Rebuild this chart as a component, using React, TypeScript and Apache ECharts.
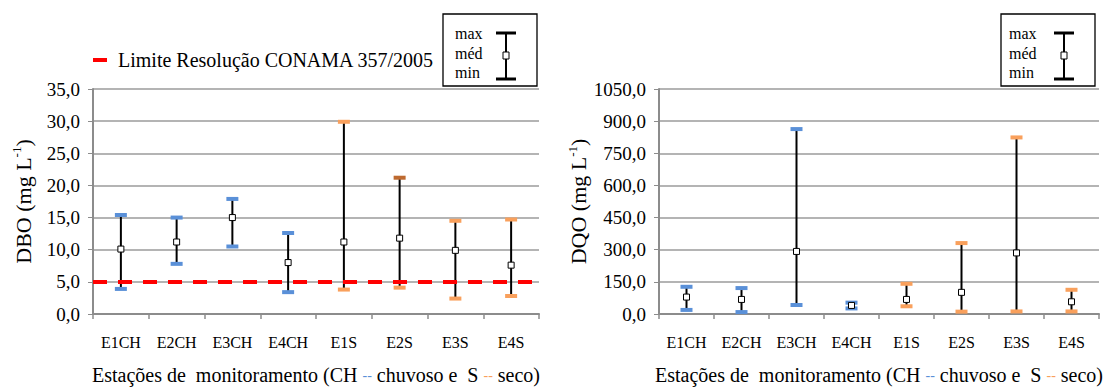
import React, { useEffect, useRef } from "react";
import * as echarts from "echarts";

const categories = ["E1CH", "E2CH", "E3CH", "E4CH", "E1S", "E2S", "E3S", "E4S"];

// DBO (mg L-1)
const dboMin = [3.9, 7.8, 10.5, 3.4, 3.8, 4.1, 2.4, 2.8];
const dboMed = [10.1, 11.2, 15.0, 8.0, 11.2, 11.8, 9.9, 7.6];
const dboMax = [15.4, 15.0, 17.9, 12.6, 29.9, 21.2, 14.5, 14.7];

// DQO (mg L-1)
const dqoMin = [19, 9, 42, 26, 36, 11, 12, 12];
const dqoMed = [79, 68, 292, 40, 68, 101, 285, 57];
const dqoMax = [127, 121, 863, 53, 141, 331, 824, 113];

const dboTicks = { min: 0, max: 35, interval: 5 };
const dqoTicks = { min: 0, max: 1050, interval: 150 };
const limitValue = 5;

const FONT = "Liberation Serif";
const BLUE = "#5A90D8";
const ORANGE = "#F9A05C";
const BROWN = "#BE6A30";

function capColor(idx: number, which: "min" | "max", chart: "dbo" | "dqo") {
  const isCH = categories[idx].endsWith("CH");
  if (chart === "dbo" && which === "max" && categories[idx] === "E2S") return BROWN;
  return isCH ? BLUE : ORANGE;
}

function makeRender(chart: "dbo" | "dqo") {
  return (params: any, api: any) => {
    const idx = api.value(0);
    const pMin = api.coord([idx, api.value(1)]);
    const pMed = api.coord([idx, api.value(2)]);
    const pMax = api.coord([idx, api.value(3)]);
    const cw = 12;
    const ch = 4;
    const sq = 6;
    return {
      type: "group",
      children: [
        {
          type: "line",
          shape: { x1: pMin[0], y1: pMin[1], x2: pMax[0], y2: pMax[1] },
          style: { stroke: "#000", lineWidth: 2 },
        },
        {
          type: "rect",
          shape: { x: pMax[0] - cw / 2, y: pMax[1] - ch / 2, width: cw, height: ch },
          style: { fill: capColor(idx, "max", chart) },
        },
        {
          type: "rect",
          shape: { x: pMin[0] - cw / 2, y: pMin[1] - ch / 2, width: cw, height: ch },
          style: { fill: capColor(idx, "min", chart) },
        },
        {
          type: "rect",
          shape: { x: pMed[0] - sq / 2, y: pMed[1] - sq / 2, width: sq, height: sq },
          style: { fill: "#fff", stroke: "#000", lineWidth: 1 },
        },
      ],
    };
  };
}

function boxLegend(x: number, textX: number, iconX: number) {
  const y = 14;
  return [
    {
      type: "rect",
      shape: { x, y, width: 94, height: 72 },
      style: { fill: "#fff", stroke: "#000", lineWidth: 1.3 },
      z: 10,
    },
    ...[
      ["max", 33],
      ["méd", 53],
      ["min", 72],
    ].map(([t, ty]) => ({
      type: "text",
      x: textX,
      y: ty as number,
      style: {
        text: t as string,
        fill: "#000",
        fontFamily: FONT,
        fontSize: 16,
        verticalAlign: "middle",
      },
      z: 11,
    })),
    {
      type: "line",
      shape: { x1: iconX, y1: 33, x2: iconX, y2: 79 },
      style: { stroke: "#000", lineWidth: 2 },
      z: 11,
    },
    {
      type: "line",
      shape: { x1: iconX - 10, y1: 33, x2: iconX + 10, y2: 33 },
      style: { stroke: "#000", lineWidth: 3 },
      z: 11,
    },
    {
      type: "line",
      shape: { x1: iconX - 10, y1: 79, x2: iconX + 10, y2: 79 },
      style: { stroke: "#000", lineWidth: 3 },
      z: 11,
    },
    {
      type: "rect",
      shape: { x: iconX - 3, y: 52, width: 6, height: 7 },
      style: { fill: "#fff", stroke: "#000", lineWidth: 1 },
      z: 12,
    },
  ];
}

const fmt = (v: number) => v.toFixed(1).replace(".", ",");

export default function App() {
  const ref = useRef<HTMLDivElement>(null);
  useEffect(() => {
    if (!ref.current) return;
    const chart = echarts.init(ref.current, undefined, { renderer: "svg" });

    const xAxisBase = (gridIndex: number) => ({
      type: "category",
      gridIndex,
      data: categories,
      boundaryGap: true,
      axisLine: { lineStyle: { color: "#8C8C8C", width: 2 } },
      axisTick: { show: true, length: 5, lineStyle: { color: "#8C8C8C", width: 1.5 } },
      axisLabel: { color: "#000", fontFamily: FONT, fontSize: 16, margin: 20 },
      name: "{t|Estações de  monitoramento (CH }{b|--}{t| chuvoso e  S }{o|--}{t| seco)}",
      nameLocation: "middle",
      nameGap: 51,
      nameTextStyle: {
        fontFamily: FONT,
        rich: {
          t: { fontFamily: FONT, fontSize: 20, color: "#000" },
          b: { fontFamily: FONT, fontSize: 14, color: BLUE },
          o: { fontFamily: FONT, fontSize: 14, color: ORANGE },
        },
      },
    });

    const yAxisBase = (gridIndex: number, ticks: any, label: string, gap: number) => ({
      type: "value",
      gridIndex,
      min: ticks.min,
      max: ticks.max,
      interval: ticks.interval,
      axisLine: { show: true, lineStyle: { color: "#8C8C8C", width: 2 } },
      axisTick: { show: true, length: 5, lineStyle: { color: "#8C8C8C" } },
      splitLine: { lineStyle: { color: "#B4B4B4", width: 2 } },
      axisLabel: { color: "#000", fontFamily: FONT, fontSize: 19, margin: 13, formatter: fmt },
      name: `{t|${label} (mg L}{s|-1}{t|)}`,
      nameLocation: "middle",
      nameGap: gap,
      nameTextStyle: {
        fontFamily: FONT,
        rich: {
          t: { fontFamily: FONT, fontSize: 22, color: "#000", lineHeight: 26 },
          s: { fontFamily: FONT, fontSize: 13, color: "#000", lineHeight: 26, verticalAlign: "top", padding: [0, 0, 10, 0] },
        },
      },
    });

    chart.setOption({
      animation: false,
      backgroundColor: "#fff",
      textStyle: { fontFamily: FONT },
      grid: [
        { left: 93, right: 564, top: 89, bottom: 73, containLabel: false, outerBoundsMode: "none" },
        { left: 659, right: 4, top: 89, bottom: 73, containLabel: false, outerBoundsMode: "none" },
      ],
      legend: {
        show: true,
        left: 93,
        top: 50,
        padding: 0,
        itemWidth: 14,
        itemHeight: 4,
        data: [{ name: "Limite Resolução CONAMA 357/2005", icon: "rect", itemStyle: { color: "#FF0000", opacity: 1 } }],
        textStyle: { fontFamily: FONT, fontSize: 20, color: "#000", padding: [0, 0, 0, 6] },
        selectedMode: false,
      },
      xAxis: [xAxisBase(0), xAxisBase(1)],
      yAxis: [yAxisBase(0, dboTicks, "DBO", 57), yAxisBase(1, dqoTicks, "DQO", 67)],
      series: [
        {
          type: "custom",
          name: "DBO",
          xAxisIndex: 0,
          yAxisIndex: 0,
          renderItem: makeRender("dbo"),
          encode: { x: 0, y: [1, 2, 3] },
          data: categories.map((_, i) => [i, dboMin[i], dboMed[i], dboMax[i]]),
          z: 2,
        },
        {
          type: "line",
          name: "Limite Resolução CONAMA 357/2005",
          xAxisIndex: 0,
          yAxisIndex: 0,
          data: [],
          itemStyle: { color: "#FF0000" },
          lineStyle: { color: "#FF0000" },
          markLine: {
            silent: true,
            symbol: "none",
            label: { show: false },
            lineStyle: { color: "#FF0000", type: [14, 11], width: 4 },
            data: [{ yAxis: limitValue }],
          },
          z: 5,
        },
        {
          type: "custom",
          name: "DQO",
          xAxisIndex: 1,
          yAxisIndex: 1,
          renderItem: makeRender("dqo"),
          encode: { x: 0, y: [1, 2, 3] },
          data: categories.map((_, i) => [i, dqoMin[i], dqoMed[i], dqoMax[i]]),
          z: 2,
        },
      ],
      graphic: [...boxLegend(443, 455, 506), ...boxLegend(1001, 1009, 1064)],
    });
    return () => chart.dispose();
  }, []);
  return (
    <div
      ref={ref}
      style={{ position: "absolute", left: 0, top: 0, width: 1103, height: 387 }}
    />
  );
}
